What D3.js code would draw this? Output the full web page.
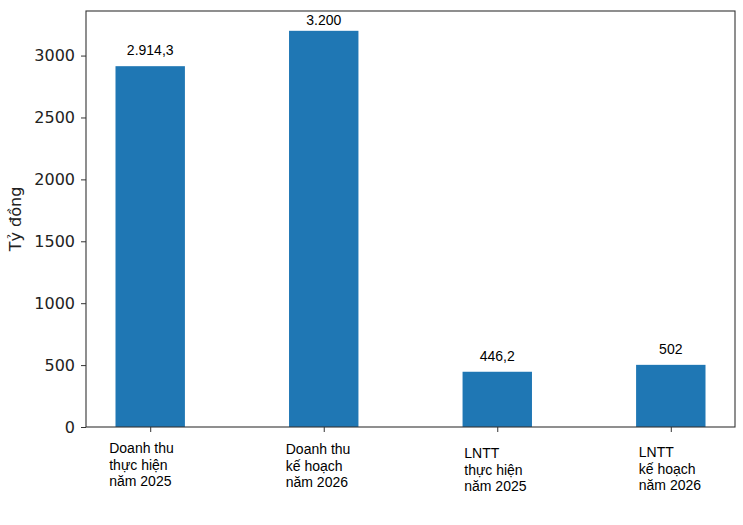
<!DOCTYPE html>
<html>
<head>
<meta charset="utf-8">
<script src="https://cdn.jsdelivr.net/npm/d3@7"></script>
<style>
  body { margin: 0; background: #fff; }
</style>
</head>
<body>
<script>
const categories = [
  ["Doanh thu", "thực hiện", "năm 2025"],
  ["Doanh thu", "kế hoạch", "năm 2026"],
  ["LNTT", "thực hiện", "năm 2025"],
  ["LNTT", "kế hoạch", "năm 2026"],
];
const values = [2914.3, 3200, 446.2, 502];
const valueLabels = ["2.914,3", "3.200", "446,2", "502"];
const yTicks = [0, 500, 1000, 1500, 2000, 2500, 3000];

// small hand nudges for the category label blocks, [dx, dy] from tick
const labelNudge = [[-41, 0], [-38, 1], [-33, 5], [-32, 4]];

const width = 743;
const height = 525;
const margin = { top: 11, right: 8, bottom: 98, left: 86 };
const plotW = width - margin.left - margin.right;
const plotH = height - margin.top - margin.bottom;

const svg = d3
  .select("body")
  .append("svg")
  .attr("width", width)
  .attr("height", height);

const g = svg
  .append("g")
  .attr("transform", `translate(${margin.left},${margin.top})`);

// matplotlib-like: positions 0..n-1, bar width 0.4, 5% margins
const barW = 0.4;
const n = values.length;
const span = n - 1 + barW;
const x = d3
  .scaleLinear()
  .domain([-barW / 2 - span * 0.05, n - 1 + barW / 2 + span * 0.05])
  .range([0, plotW]);
const y = d3
  .scaleLinear()
  .domain([0, d3.max(values) * 1.05])
  .range([plotH, 0]);

g.selectAll("rect.bar")
  .data(values)
  .enter()
  .append("rect")
  .attr("class", "bar")
  .attr("x", (d, i) => x(i - barW / 2))
  .attr("width", x(barW) - x(0))
  .attr("y", (d) => y(d))
  .attr("height", (d) => plotH - y(d))
  .attr("fill", "#1f77b4");

g.selectAll("text.val")
  .data(values)
  .enter()
  .append("text")
  .attr("class", "val")
  .attr("x", (d, i) => x(i))
  .attr("y", (d) => Math.max(y(d) - 11, 14))
  .attr("text-anchor", "middle")
  .attr("font-family", "'Liberation Sans', Arial, sans-serif")
  .attr("font-size", 14)
  .attr("fill", "#000")
  .text((d, i) => valueLabels[i]);

// y axis
const yAxis = g
  .append("g")
  .call(
    d3
      .axisLeft(y)
      .tickValues(yTicks)
      .tickSize(5)
      .tickPadding(6)
      .tickFormat(d3.format("d"))
  );
yAxis.attr("font-family", "'DejaVu Sans', sans-serif").attr("font-size", 16);
yAxis.select(".domain").remove();
yAxis.selectAll("line").attr("stroke", "#333");
yAxis.selectAll("text").attr("fill", "#222");

// x ticks
const xAxis = g
  .append("g")
  .attr("transform", `translate(0,${plotH})`)
  .call(d3.axisBottom(x).tickValues(d3.range(n)).tickSize(5).tickFormat(""));
xAxis.select(".domain").remove();
xAxis.selectAll("line").attr("stroke", "#333");

// frame
g.append("rect")
  .attr("width", plotW)
  .attr("height", plotH)
  .attr("fill", "none")
  .attr("stroke", "#333")
  .attr("stroke-width", 1.1);

// category labels
const cat = g
  .selectAll("text.cat")
  .data(categories)
  .enter()
  .append("text")
  .attr("class", "cat")
  .attr("x", (d, i) => x(i) + labelNudge[i][0])
  .attr("y", (d, i) => plotH + 26 + labelNudge[i][1])
  .attr("font-family", "'Liberation Sans', Arial, sans-serif")
  .attr("font-size", 14)
  .attr("fill", "#000");
cat
  .selectAll("tspan")
  .data((d) => d)
  .enter()
  .append("tspan")
  .attr("x", function () {
    return d3.select(this.parentNode).attr("x");
  })
  .attr("dy", (d, i) => (i === 0 ? 0 : 16.7))
  .text((d) => d);

// y label
svg
  .append("text")
  .attr("transform", `translate(21,${margin.top + plotH / 2}) rotate(-90)`)
  .attr("text-anchor", "middle")
  .attr("font-family", "'DejaVu Sans', sans-serif")
  .attr("font-size", 16)
  .attr("fill", "#222")
  .text("Tỷ đồng");
</script>
</body>
</html>
